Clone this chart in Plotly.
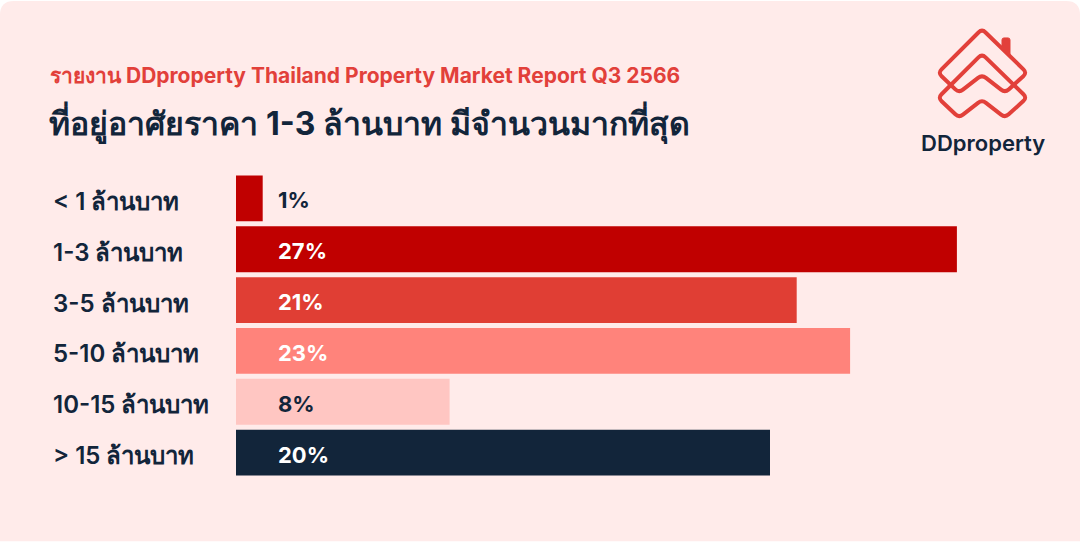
import plotly.graph_objects as go

# data
categories = ["< 1 ล้านบาท", "1-3 ล้านบาท", "3-5 ล้านบาท", "5-10 ล้านบาท", "10-15 ล้านบาท", "> 15 ล้านบาท"]
shares = [1, 27, 21, 23, 8, 20]
bar_colors = ["#C00000", "#C00000", "#E03E34", "#FF837B", "#FFC6C2", "#12253A"]
label_colors = ["#12253A", "#FFFFFF", "#FFFFFF", "#FFFFFF", "#12253A", "#FFFFFF"]

kicker = "รายงาน DDproperty Thailand Property Market Report Q3 2566"
headline = "ที่อยู่อาศัยราคา <b>1-3</b> ล้านบาท มีจำนวนมากที่สุด"

NAVY = "#12253A"
RED = "#E2403A"
BG = "#FFEBEA"
FONT = "Inter, Noto Sans, sans-serif"

# figure geometry (pixels)
FW, FH = 1080, 542
L, R, T, B = 236, 43, 172.5, 63.5
PW, PH = FW - L - R, FH - T - B


def px(x):
    return (x - L) / PW


def py(y):
    return 1 - (y - T) / PH


def rounded_path(points, r):
    # closed polygon with rounded corners, pixel coords -> paper coords
    n = len(points)
    cuts = []
    for i in range(n):
        x0, y0 = points[i - 1]
        x1, y1 = points[i]
        x2, y2 = points[(i + 1) % n]
        d0 = ((x0 - x1) ** 2 + (y0 - y1) ** 2) ** 0.5
        d2 = ((x2 - x1) ** 2 + (y2 - y1) ** 2) ** 0.5
        a = (x1 + (x0 - x1) * r / d0, y1 + (y0 - y1) * r / d0)
        b = (x1 + (x2 - x1) * r / d2, y1 + (y2 - y1) * r / d2)
        cuts.append((a, (x1, y1), b))
    s = ""
    for i, (a, c, b) in enumerate(cuts):
        s += ("M" if i == 0 else "L") + f"{px(a[0]):.5f},{py(a[1]):.5f}"
        s += f"Q{px(c[0]):.5f},{py(c[1]):.5f} {px(b[0]):.5f},{py(b[1]):.5f}"
    return s + "Z"


fig = go.Figure(go.Bar(
    x=shares,
    y=categories,
    orientation="h",
    marker=dict(color=bar_colors, line=dict(width=0)),
    hoverinfo="skip",
))

shapes = []
# card background with rounded top corners
card = (f"M{px(0):.5f},{py(542):.5f} L{px(0):.5f},{py(14):.5f} Q{px(0):.5f},{py(0):.5f} {px(14):.5f},{py(0):.5f} "
        f"L{px(1066):.5f},{py(0):.5f} Q{px(1080):.5f},{py(0):.5f} {px(1080):.5f},{py(14):.5f} "
        f"L{px(1080):.5f},{py(542):.5f} Z")
shapes.append(dict(type="path", xref="paper", yref="paper", path=card,
                   fillcolor=BG, line=dict(width=0), layer="below"))

# logo: two stacked house outlines plus a chimney
house = [(938, 72), (982, 28), (1027, 72), (1005, 92), (982, 74), (959, 92)]
for dy in (0, 25):
    pts = [(x, y + dy) for x, y in house]
    shapes.append(dict(type="path", xref="paper", yref="paper", path=rounded_path(pts, 5),
                       line=dict(color=RED, width=4)))
chimney = [(1002, 37), (1010, 37), (1010, 56), (1002, 48)]
shapes.append(dict(type="path", xref="paper", yref="paper", path=rounded_path(chimney, 2),
                   fillcolor=RED, line=dict(color=RED, width=1)))

annotations = [
    dict(text=kicker, x=px(48), y=py(75), xanchor="left", yanchor="middle",
         font=dict(size=21, color=RED, family=FONT, weight=700)),
    dict(text=headline, x=px(47), y=py(122), xanchor="left", yanchor="middle",
         font=dict(size=32, color=NAVY, family=FONT, weight=600)),
    dict(text="DDproperty", x=px(983), y=py(142), xanchor="center", yanchor="middle",
         font=dict(size=22, color=NAVY, family=FONT, weight=600)),
]
for a in annotations:
    a.update(xref="paper", yref="paper", showarrow=False)

for cat, val, col in zip(categories, shares, label_colors):
    annotations.append(dict(
        text=cat, xref="paper", yref="y", x=px(51), y=cat, yshift=-3,
        xanchor="left", yanchor="middle", showarrow=False,
        font=dict(size=24, color=NAVY, family=FONT, weight=600),
    ))
    annotations.append(dict(
        text=f"{val}%", xref="x", yref="y", x=0, y=cat, xshift=40, yshift=-2,
        xanchor="left", yanchor="middle", showarrow=False,
        font=dict(size=22, color=col, family=FONT, weight=700),
    ))

fig.update_layout(
    width=FW, height=FH,
    margin=dict(l=L, r=R, t=T, b=B, pad=0),
    paper_bgcolor="white",
    plot_bgcolor="rgba(0,0,0,0)",
    bargap=0.098,
    showlegend=False,
    xaxis=dict(range=[0, 30], visible=False, fixedrange=True),
    yaxis=dict(categoryorder="array", categoryarray=categories, autorange="reversed",
               visible=False, fixedrange=True),
    shapes=shapes,
    annotations=annotations,
)

fig.write_html("out.html", config=dict(displayModeBar=False),
               post_script="document.body.style.margin='0';")
